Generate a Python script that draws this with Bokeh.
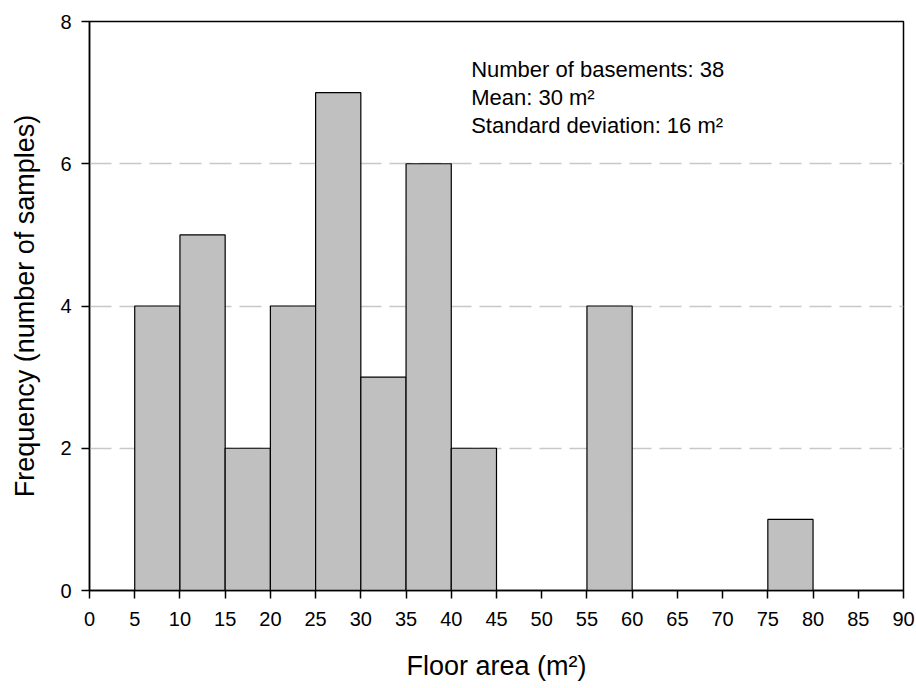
from bokeh.plotting import figure
from bokeh.models import ColumnDataSource, Label, FixedTicker
from bokeh.embed import file_html
from bokeh.resources import INLINE

# Histogram data (floor area bins in m², counts)
bin_left = [5, 10, 15, 20, 25, 30, 35, 40, 55, 75]
bin_right = [10, 15, 20, 25, 30, 35, 40, 45, 60, 80]
counts = [4, 5, 2, 4, 7, 3, 6, 2, 4, 1]
x_ticks = list(range(0, 95, 5))
y_ticks = [0, 2, 4, 6, 8]
stats_lines = ["Number of basements: 38", "Mean: 30 m\u00b2", "Standard deviation: 16 m\u00b2"]

FONT = "Liberation Sans"

p = figure(width=916, height=688, output_backend="svg", toolbar_location=None,
           x_range=(0, 90), y_range=(0, 8),
           min_border_left=89, min_border_right=13, min_border_top=21, min_border_bottom=98)

src = ColumnDataSource(dict(left=bin_left, right=bin_right, top=counts, bottom=[0] * len(counts)))
p.quad(left="left", right="right", top="top", bottom="bottom", source=src,
       fill_color="#c0c0c0", line_color="black", line_width=1.2)

p.xgrid.grid_line_color = None
p.ygrid.grid_line_color = "#c8c8c8"
p.ygrid.grid_line_width = 1.6
p.ygrid.grid_line_dash = "22 8"

p.outline_line_color = "black"
p.outline_line_width = 1.5
p.outline_line_alpha = 1.0

p.xaxis.ticker = FixedTicker(ticks=x_ticks)
p.yaxis.ticker = FixedTicker(ticks=y_ticks)
p.xaxis.axis_label = "Floor area (m\u00b2)"
p.yaxis.axis_label = "Frequency (number of samples)"

for ax in (p.xaxis, p.yaxis):
    ax.axis_line_width = 1.5
    ax.axis_line_color = "black"
    ax.major_tick_line_width = 1.5
    ax.major_tick_line_color = "black"
    ax.major_tick_out = 8
    ax.major_tick_in = 0
    ax.minor_tick_line_color = None
    ax.major_label_text_font = FONT
    ax.major_label_text_font_size = "20px"
    ax.major_label_text_color = "black"
    ax.axis_label_text_font = FONT
    ax.axis_label_text_font_size = "27px"
    ax.axis_label_text_font_style = "normal"
    ax.axis_label_text_color = "black"

p.xaxis.major_label_standoff = 13
p.yaxis.major_label_standoff = 10
p.xaxis.axis_label_standoff = 22
p.yaxis.axis_label_standoff = 17

ys = [7.325, 6.93, 6.535]
for txt, yy in zip(stats_lines, ys):
    p.add_layout(Label(x=42.2, y=yy, text=txt, text_font=FONT, text_font_size="22px",
                       text_color="black", text_baseline="alphabetic", text_align="left"))

open("out.html", "w").write(file_html(p, INLINE))
